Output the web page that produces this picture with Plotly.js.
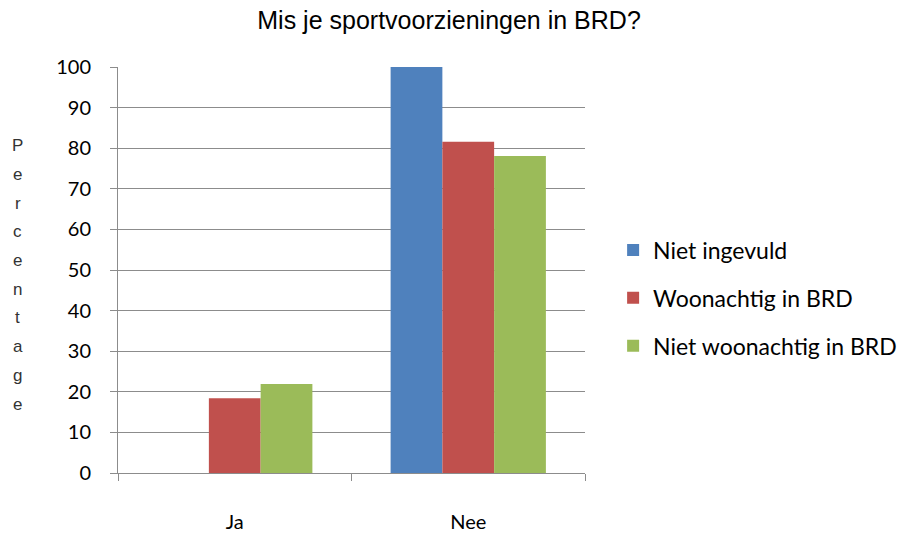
<!DOCTYPE html>
<html>
<head>
<meta charset="utf-8">
<script src="https://cdn.plot.ly/plotly-3.0.1.min.js"></script>
<style>html,body{margin:0;padding:0;background:#fff;}#chart{width:909px;height:533px;}</style>
</head>
<body>
<div id="chart"></div>
<script>
const categories = ["Ja", "Nee"];
const seriesNames = ["Niet ingevuld", "Woonachtig in BRD", "Niet woonachtig in BRD"];
const nietIngevuld = [0, 100];
const woonachtig = [18.4, 81.6];
const nietWoonachtig = [21.9, 78.1];
const yTicks = [0, 10, 20, 30, 40, 50, 60, 70, 80, 90, 100];
const yTitle = "Percentage";
const colors = ["#4F81BD", "#C0504D", "#9BBB59"];

const values = [nietIngevuld, woonachtig, nietWoonachtig];
const traces = values.map((v, i) => ({
  type: "bar",
  x: categories,
  y: v,
  name: seriesNames[i],
  legendgroup: "g" + i,
  marker: {color: colors[i], line: {width: 0}},
  hoverinfo: "x+y+name"
}));

const letters = yTitle.split("");
const annotations = letters.map((ch, i) => ({
  text: ch,
  xref: "paper", yref: "paper",
  x: -0.215, y: 0.806 - i * 0.0707,
  xanchor: "center", yanchor: "middle",
  showarrow: false,
  font: {family: "Liberation Sans, Arial, sans-serif", size: 17, color: "#333"}
}));

const layout = {
  width: 909, height: 533,
  margin: {l: 118, r: 324, t: 67, b: 60, autoexpand: false},
  paper_bgcolor: "#fff", plot_bgcolor: "#fff",
  title: {text: "Mis je sportvoorzieningen in BRD?", x: 0.494, xanchor: "center", y: 0.962, yanchor: "middle",
          font: {family: "Liberation Sans, Arial, sans-serif", size: 25, color: "#000"}},
  barmode: "group",
  bargap: 0.335,
  bargroupgap: 0,
  xaxis: {
    type: "category",
    showline: true, linecolor: "#8c8c8c", linewidth: 1,
    ticks: "outside", tickson: "boundaries", ticklen: 7, tickcolor: "#8c8c8c",
    showgrid: false,
    tickfont: {family: "Lato, Open Sans, sans-serif", size: 20, color: "#000"},
    ticklabelstandoff: 31
  },
  yaxis: {
    range: [0, 100],
    tickvals: yTicks,
    ticktext: yTicks.map(String),
    showline: true, linecolor: "#8c8c8c", linewidth: 1,
    ticks: "outside", ticklen: 7, tickcolor: "#8c8c8c",
    showgrid: true, gridcolor: "#8c8c8c", gridwidth: 1,
    zeroline: false,
    tickfont: {family: "Lato, Open Sans, sans-serif", size: 20, color: "#000"},
    ticklabelstandoff: 15
  },
  legend: {
    xref: "container", yref: "container",
    x: 0.6745, y: 0.441, xanchor: "left", yanchor: "middle",
    font: {family: "Lato, Open Sans, sans-serif", size: 23, color: "#000"},
    traceorder: "grouped", tracegroupgap: 15,
    itemwidth: 30
  },
  annotations: annotations,
  showlegend: true
};

Plotly.newPlot("chart", traces, layout, {displayModeBar: false, staticPlot: true});
</script>
</body>
</html>
